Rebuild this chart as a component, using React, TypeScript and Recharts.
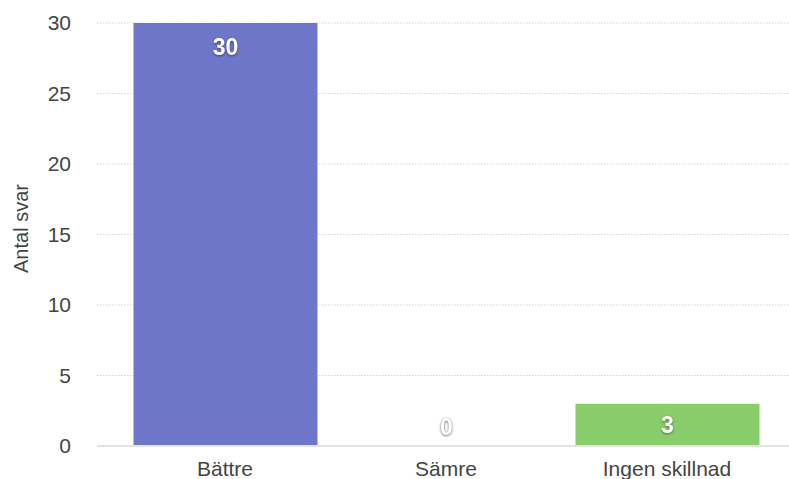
import { BarChart, Bar, XAxis, YAxis, CartesianGrid, Cell, LabelList } from "recharts";

// answers per category
const categories = ["Bättre", "Sämre", "Ingen skillnad"];
const answers = [30, 0, 3];
const barColors = ["#6e76c9", "#6e76c9", "#88cd6a"];
const yTicks = [0, 5, 10, 15, 20, 25, 30];

const data = categories.map((name, i) => ({ name, value: answers[i] }));

const font = "'Liberation Sans', Arial, Helvetica, sans-serif";

// white bold value label; zero bars get it just above the baseline
function ValueLabel(props: any) {
  const { x, y, width, height, value } = props;
  const cx = Number(x) + Number(width) / 2;
  const zero = Number(value) === 0;
  const cy = zero ? Number(y) + Number(height) - 19 : Number(y) + Math.min(24, Number(height) / 2);
  return (
    <text
      x={cx}
      y={cy}
      dy="0.36em"
      textAnchor="middle"
      fill="#ffffff"
      stroke={zero ? "rgba(120,130,150,0.35)" : "none"}
      strokeWidth={zero ? 1 : 0}
      paintOrder="stroke"
      fontFamily={font}
      fontWeight="bold"
      fontSize={23}
      style={{ filter: "drop-shadow(0px 1px 1px rgba(0,0,0,0.45))" }}
    >
      {value}
    </text>
  );
}

export default function App() {
  return (
    <div style={{ position: "absolute", left: 0, top: 0, width: 789, height: 479, background: "#fff" }}>
      <BarChart
        width={789}
        height={479}
        data={data}
        margin={{ top: 23, right: 0, bottom: 0, left: 0 }}
        barSize={184}
      >
        <CartesianGrid vertical={false} stroke="#d6d6d6" strokeDasharray="1.5 1.5" />
        <XAxis
          dataKey="name"
          height={33}
          padding={{ left: 17.5, right: 11.5 }}
          tickLine={false}
          axisLine={{ stroke: "#e2e2e2", strokeWidth: 2 }}
          tickMargin={9}
          tick={{ fill: "#444", fontSize: 21, fontFamily: font }}
          interval={0}
        />
        <YAxis
          width={97}
          domain={[0, 30]}
          ticks={yTicks}
          tickLine={false}
          axisLine={false}
          tickMargin={20}
          tick={{ fill: "#444", fontSize: 21, fontFamily: font }}
          label={{
            value: "Antal svar",
            angle: -90,
            position: "center",
            dx: -28,
            dy: -6,
            style: { fill: "#444", fontSize: 20, fontFamily: font, textAnchor: "middle" },
          }}
        />
        <Bar dataKey="value" isAnimationActive={false} minPointSize={1}>
          {data.map((d, i) => (
            <Cell key={d.name} fill={d.value === 0 ? "transparent" : barColors[i]} />
          ))}
          <LabelList dataKey="value" content={ValueLabel} />
        </Bar>
      </BarChart>
    </div>
  );
}
